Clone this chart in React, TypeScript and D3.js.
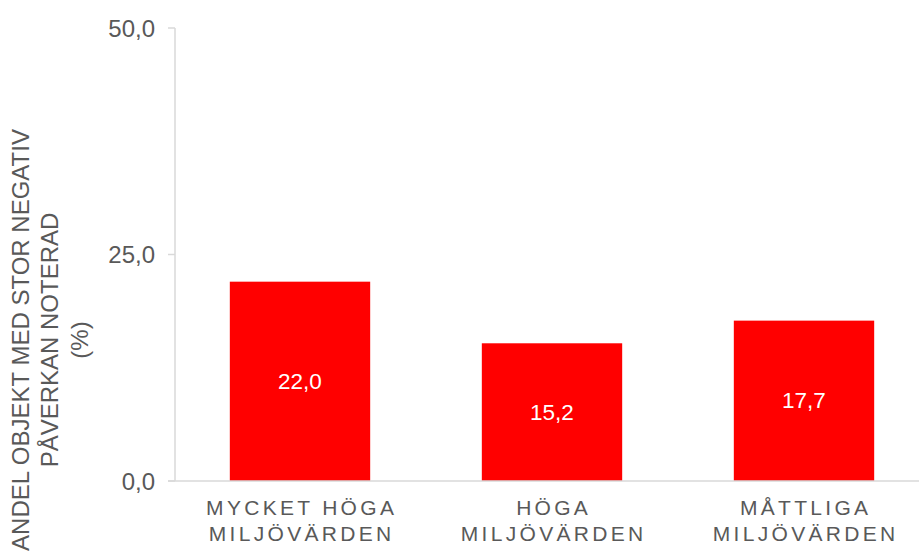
import React from "react";
import * as d3 from "d3";

const categories: string[][] = [
  ["MYCKET HÖGA", "MILJÖVÄRDEN"],
  ["HÖGA", "MILJÖVÄRDEN"],
  ["MÅTTLIGA", "MILJÖVÄRDEN"],
];
const values: number[] = [22.0, 15.2, 17.7];
const yTicks: number[] = [0, 25, 50];
const yTitle: string[] = ["ANDEL OBJEKT MED STOR NEGATIV", "PÅVERKAN NOTERAD", "(%)"];

const W = 919;
const H = 554;
const FONT = "'Liberation Sans', Arial, sans-serif";
const fmt = (v: number) => v.toFixed(1).replace(".", ",");

export default function App() {
  const x = d3
    .scaleBand<number>()
    .domain(d3.range(categories.length))
    .range([174, 930])
    .paddingInner(0.443)
    .paddingOuter(0.2215);
  const y = d3.scaleLinear().domain([0, 50]).range([481, 28]);
  const axisColor = "#d9d9d9";
  const textColor = "#595959";
  const ls = 3.3;

  return (
    <svg
      width={W}
      height={H}
      style={{ position: "absolute", left: 0, top: 0, background: "#fff" }}
      fontFamily={FONT}
    >
      {/* y axis */}
      <line x1={175} x2={175} y1={y(50)} y2={y(0)} stroke={axisColor} strokeWidth={1.5} />
      {yTicks.map((t) => (
        <g key={t}>
          <line x1={168} x2={175} y1={y(t)} y2={y(t)} stroke={axisColor} strokeWidth={1.5} />
          <text
            x={155}
            y={y(t)}
            textAnchor="end"
            dominantBaseline="central"
            fontSize={24}
            fill={textColor}
          >
            {fmt(t)}
          </text>
        </g>
      ))}
      {/* bars */}
      {values.map((v, i) => (
        <g key={i}>
          <rect
            x={x(i)!}
            y={y(v)}
            width={x.bandwidth()}
            height={y(0) - y(v)}
            fill="#ff0000"
          />
          <text
            x={x(i)! + x.bandwidth() / 2}
            y={(y(v) + y(0)) / 2}
            textAnchor="middle"
            dominantBaseline="central"
            fontSize={22.5}
            fill="#ffffff"
          >
            {fmt(v)}
          </text>
        </g>
      ))}
      {/* x axis */}
      <line x1={168} x2={W} y1={y(0)} y2={y(0)} stroke={axisColor} strokeWidth={1.5} />
      {categories.map((lines, i) =>
        lines.map((ln, j) => (
          <text
            key={i + "-" + j}
            x={x(i)! + x.bandwidth() / 2 + ls / 2}
            y={507 + j * 26}
            textAnchor="middle"
            dominantBaseline="central"
            fontSize={21}
            letterSpacing={ls}
            fill={textColor}
          >
            {ln}
          </text>
        ))
      )}
      {/* y title */}
      <g transform={`translate(0, 340) rotate(-90)`}>
        {yTitle.map((ln, j) => (
          <text
            key={j}
            x={0}
            y={20 + j * 29.5}
            textAnchor="middle"
            dominantBaseline="central"
            fontSize={24}
            fill={textColor}
          >
            {ln}
          </text>
        ))}
      </g>
    </svg>
  );
}
